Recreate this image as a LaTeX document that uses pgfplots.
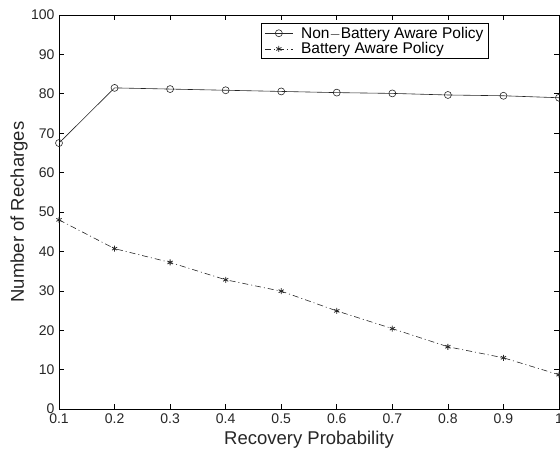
\documentclass[border=0pt]{standalone}
\usepackage{fontspec}
\setmainfont{Liberation Sans}
\usepackage{pgfplots}
\pgfplotsset{compat=1.18}
\begin{document}
\begin{tikzpicture}
\begin{axis}[
  scale only axis,
  width=500pt, height=394pt,
  xmin=0.1, xmax=1, ymin=0, ymax=100,
  xtick={0.1,0.2,0.3,0.4,0.5,0.6,0.7,0.8,0.9,1},
  xticklabels={0.1,0.2,0.3,0.4,0.5,0.6,0.7,0.8,0.9,1},
  ytick={0,10,...,100},
  tick align=inside,
  major tick length=5pt,
  /pgf/number format/assume math mode=true,
  tick label style={font=\fontsize{14}{16}\selectfont, text=black!85},
  xticklabel style={yshift=-1pt},
  yticklabel style={xshift=-1pt},
  xlabel={Recovery Probability},
  ylabel={Number of Recharges},
  every axis x label/.style={at={(axis description cs:0.5,0)}, yshift=-31pt, anchor=center,
    font=\fontsize{18.5}{20}\selectfont, text=black!85},
  every axis y label/.style={at={(axis description cs:0,0.5)}, xshift=-40pt, rotate=90, anchor=center,
    font=\fontsize{18.5}{20}\selectfont, text=black!85},
  axis line style={line width=0.8pt},
  every tick/.style={black, line width=0.6pt},
  legend style={at={(0.86,0.98)}, anchor=north east, draw=black, line width=1pt,
    font=\fontsize{15.5}{17}\selectfont, inner xsep=3pt, inner ysep=2pt, row sep=0pt,
    nodes={inner ysep=1.5pt},
    cells={anchor=west}},
  legend image code/.code={\draw[mark repeat=2,mark phase=2,#1] plot coordinates {(0pt,0pt)(14pt,0pt)(28pt,0pt)};},
  legend cell align=left,
]
\addplot[black!85, line width=0.6pt, mark=o, mark size=3.5pt, mark options={solid, line width=0.6pt}]
 coordinates {(0.1,67.5)(0.2,81.5)(0.3,81.2)(0.4,80.9)(0.5,80.6)(0.6,80.3)(0.7,80.1)(0.8,79.7)(0.9,79.5)(1.0,79.0)};
\addlegendentry{\hspace*{6pt}Non$-$Battery Aware Policy}
\addplot[black!85, line width=0.6pt, dash pattern=on 6pt off 3pt on 1pt off 3pt, mark=asterisk, mark size=3pt, mark options={solid, line width=0.8pt}]
 coordinates {(0.1,48.0)(0.2,40.7)(0.3,37.2)(0.4,32.8)(0.5,29.9)(0.6,24.9)(0.7,20.4)(0.8,15.8)(0.9,13.0)(1.0,8.7)};
\addlegendentry{\hspace*{6pt}Battery Aware Policy}
\end{axis}
\pgfresetboundingbox
\path ([xshift=-59pt,yshift=-41pt]current axis.south west) rectangle ([xshift=1pt,yshift=15pt]current axis.north east);
\end{tikzpicture}
\end{document}
